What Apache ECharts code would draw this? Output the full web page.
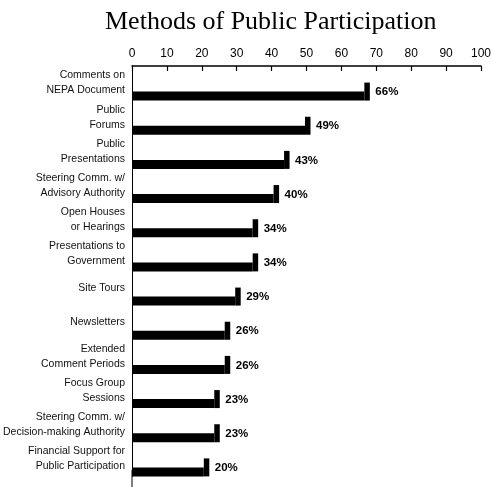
<!DOCTYPE html>
<html>
<head>
<meta charset="utf-8">
<script src="https://cdn.jsdelivr.net/npm/echarts@6/dist/echarts.min.js"></script>
<style>
  html, body { margin: 0; padding: 0; background: #fff; }
  #chart { width: 491px; height: 487px; }
</style>
</head>
<body>
<div id="chart"></div>
<script>
// methods, top to bottom
var categories = [
  'Comments on\nNEPA Document',
  'Public\nForums',
  'Public\nPresentations',
  'Steering Comm. w/\nAdvisory Authority',
  'Open Houses\nor Hearings',
  'Presentations to\nGovernment',
  'Site Tours',
  'Newsletters',
  'Extended\nComment Periods',
  'Focus Group\nSessions',
  'Steering Comm. w/\nDecision-making Authority',
  'Financial Support for\nPublic Participation'
];
var percents = [66, 49, 43, 40, 34, 34, 29, 26, 26, 23, 23, 20];
var xTicks = [0, 10, 20, 30, 40, 50, 60, 70, 80, 90, 100];

var sans = '"Liberation Sans", Arial, sans-serif';

var chart = echarts.init(document.getElementById('chart'));

// bar drawn a bit below the category centre, with a raised end cap;
// the category name goes left of the axis, right aligned line by line
function renderBar(params, api) {
  var idx = api.value(1);
  var end = api.coord([api.value(0), idx]);
  var start = api.coord([0, idx]);
  var band = api.size([0, 1])[1];
  var cy = end[1] + band * 0.38;
  var x = end[0] + 2;
  return {
    type: 'group',
    children: [
      {
        type: 'rect',
        shape: { x: start[0], y: cy - 4.5, width: x - start[0], height: 9 },
        style: { fill: '#000' }
      },
      {
        type: 'rect',
        shape: { x: x, y: cy - 13.5, width: 5.5, height: 18 },
        style: { fill: '#000' }
      },
      {
        type: 'text',
        x: x + 11,
        y: cy - 4,
        style: {
          text: api.value(0) + '%',
          fill: '#000',
          font: 'bold 11.5px ' + sans,
          verticalAlign: 'middle',
          align: 'left'
        }
      },
      {
        type: 'text',
        x: start[0] - 7,
        y: end[1],
        style: {
          text: categories[idx],
          fill: '#111',
          font: '10.5px ' + sans,
          lineHeight: 15,
          align: 'right',
          verticalAlign: 'middle'
        }
      }
    ]
  };
}

chart.setOption({
  animation: false,
  backgroundColor: '#fff',
  title: {
    text: 'Methods of Public Participation',
    left: 100,
    top: 4,
    textStyle: {
      fontFamily: '"Liberation Serif", "DejaVu Serif", serif',
      fontWeight: 'normal',
      fontSize: 26,
      color: '#000'
    }
  },
  grid: { left: 132, right: 10, top: 66, bottom: 11, outerBoundsMode: 'none' },
  xAxis: {
    type: 'value',
    position: 'top',
    min: 0,
    max: 100,
    interval: 10,
    axisLine: { show: true, lineStyle: { color: '#000', width: 1.5 } },
    axisTick: { show: true, inside: true, length: 5, lineStyle: { color: '#000', width: 1.2 } },
    axisLabel: {
      margin: 6,
      color: '#000',
      fontSize: 12,
      fontFamily: sans,
      formatter: function (v) { return xTicks.indexOf(v) >= 0 ? String(v) : ''; }
    },
    splitLine: { show: false }
  },
  yAxis: {
    type: 'category',
    inverse: true,
    data: categories,
    axisLine: { show: true, lineStyle: { color: '#000', width: 1 } },
    axisTick: { show: false },
    axisLabel: { show: false }
  },
  graphic: [
    {
      type: 'line',
      shape: { x1: 132, y1: 470, x2: 132, y2: 487 },
      style: { stroke: '#000', lineWidth: 1 }
    }
  ],
  series: [
    {
      type: 'custom',
      renderItem: renderBar,
      clip: false,
      encode: { x: 0, y: 1 },
      data: percents.map(function (v, i) { return [v, i]; })
    }
  ]
});
</script>
</body>
</html>
